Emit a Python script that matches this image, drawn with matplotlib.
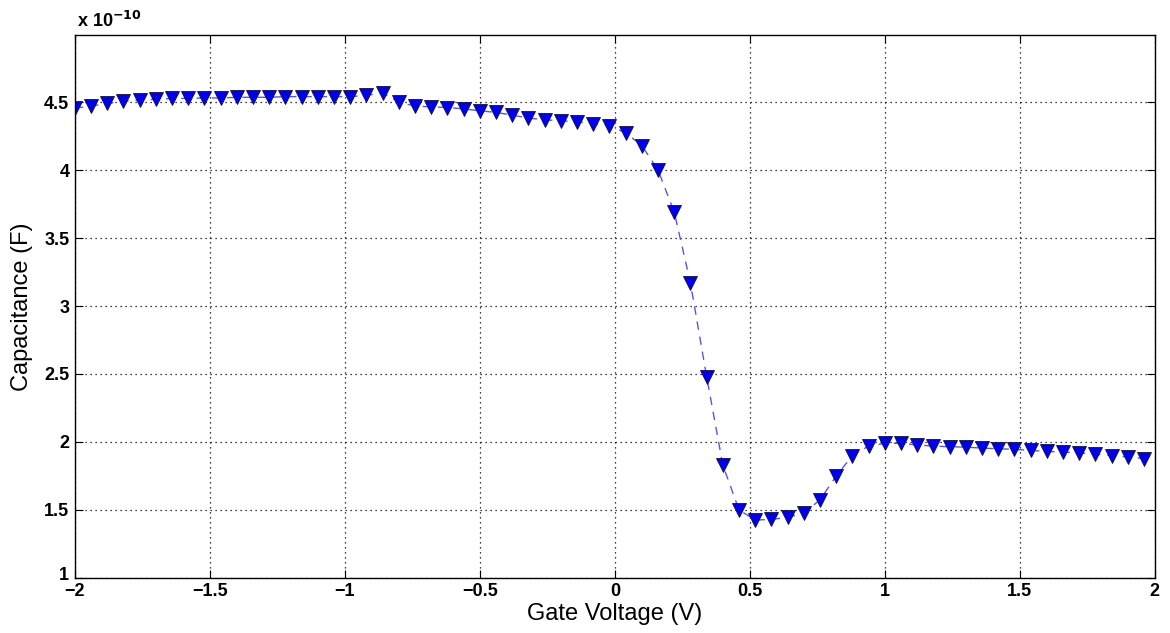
import numpy as np
import matplotlib.pyplot as plt
from matplotlib.transforms import ScaledTranslation

# gate voltage sweep (V), 0.06 V steps
voltage = [-2.00, -1.94, -1.88, -1.82, -1.76, -1.70, -1.64, -1.58, -1.52, -1.46,
           -1.40, -1.34, -1.28, -1.22, -1.16, -1.10, -1.04, -0.98, -0.92, -0.86,
           -0.80, -0.74, -0.68, -0.62, -0.56, -0.50, -0.44, -0.38, -0.32, -0.26,
           -0.20, -0.14, -0.08, -0.02, 0.04, 0.10, 0.16, 0.22, 0.28, 0.34,
           0.40, 0.46, 0.52, 0.58, 0.64, 0.70, 0.76, 0.82, 0.88, 0.94,
           1.00, 1.06, 1.12, 1.18, 1.24, 1.30, 1.36, 1.42, 1.48, 1.54,
           1.60, 1.66, 1.72, 1.78, 1.84, 1.90, 1.96]

# capacitance in units of 1e-10 F
capacitance = [4.456, 4.47, 4.49, 4.505, 4.515, 4.52, 4.527, 4.527, 4.53, 4.53,
               4.535, 4.535, 4.535, 4.54, 4.54, 4.54, 4.54, 4.54, 4.55, 4.566,
               4.50, 4.47, 4.465, 4.46, 4.45, 4.436, 4.424, 4.404, 4.382, 4.37,
               4.362, 4.355, 4.342, 4.325, 4.275, 4.18, 4.0, 3.69, 3.17, 2.48,
               1.83, 1.50, 1.426, 1.43, 1.446, 1.476, 1.575, 1.75, 1.90, 1.97,
               1.99, 1.99, 1.978, 1.97, 1.965, 1.962, 1.955, 1.95, 1.946, 1.938,
               1.93, 1.926, 1.92, 1.91, 1.90, 1.89, 1.878]

xticks = [-2, -1.5, -1, -0.5, 0, 0.5, 1, 1.5, 2]
xticklabels = ['\u22122', '\u22121.5', '\u22121', '\u22120.5', '0', '0.5', '1', '1.5', '2']
yticks = [1, 1.5, 2, 2.5, 3, 3.5, 4, 4.5]
yticklabels = ['1', '1.5', '2', '2.5', '3', '3.5', '4', '4.5']

plt.rcParams['font.family'] = ['Liberation Sans', 'DejaVu Sans']

fig = plt.figure(figsize=(11.7, 6.33), dpi=100)
ax = fig.add_axes([0.064, 0.087, 0.923, 0.857])

ax.plot(voltage, capacitance, color='#5555ee', linestyle=(0, (6, 5)), linewidth=1.0)
ax.plot(voltage, capacitance, linestyle='none', marker='v', markersize=10,
        markerfacecolor='#0000ee', markeredgecolor='#101040', markeredgewidth=0.6)

ax.set_xlim(-2, 2)
ax.set_ylim(1, 4.99)
ax.set_xticks(xticks)
ax.set_xticklabels(xticklabels, fontsize=13, fontweight='bold')
ax.set_yticks(yticks)
ax.set_yticklabels(yticklabels, fontsize=13, fontweight='bold')
ax.tick_params(direction='in', length=6, width=0.8, top=True, right=True, pad=4)
ax.grid(True, color='black', linestyle=(0, (1, 3)), linewidth=0.9)
for s in ax.spines.values():
    s.set_linewidth(1.0)

# nudge the bottom y label up a little, as in the original
lab = ax.get_yticklabels()[0]
lab.set_transform(lab.get_transform() + ScaledTranslation(0, 4 / 100, fig.dpi_scale_trans))

ax.set_xlabel('Gate Voltage (V)', fontsize=17, labelpad=2)
ax.set_ylabel('Capacitance (F)', fontsize=17, labelpad=8)

fig.text(0.066, 0.957, r'x 10$^{\mathbf{-10}}$', fontsize=13, fontweight='bold')

plt.savefig('out.png', dpi=100)
